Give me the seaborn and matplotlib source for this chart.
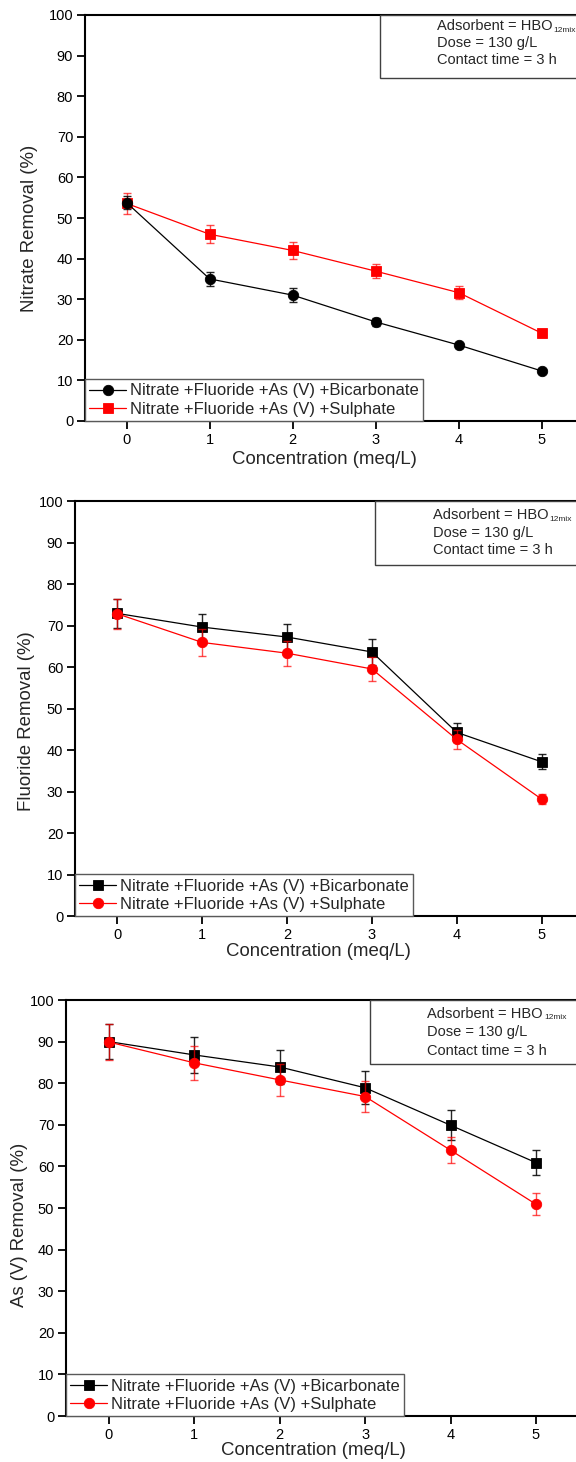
import numpy as np
import pandas as pd
import matplotlib
matplotlib.use("Agg")
import matplotlib.pyplot as plt
import seaborn as sns
from matplotlib.patches import Rectangle

# ---------------- data ----------------
conc = [0, 1, 2, 3, 4, 5]
x_ticks = [0, 1, 2, 3, 4, 5]
y_ticks = [0, 10, 20, 30, 40, 50, 60, 70, 80, 90, 100]

label_bicarb = "Nitrate +Fluoride +As (V) +Bicarbonate"
label_sulph = "Nitrate +Fluoride +As (V) +Sulphate"

nitrate_bicarb = [53.8, 35.0, 31.0, 24.4, 18.7, 12.3]
nitrate_bicarb_err = [1.5, 1.8, 1.7, 1.0, 0.6, 0.5]
nitrate_sulph = [53.6, 46.0, 42.0, 36.9, 31.6, 21.6]
nitrate_sulph_err = [2.6, 2.2, 2.0, 1.8, 1.6, 0.8]

fluoride_bicarb = [73.0, 69.7, 67.3, 63.7, 44.3, 37.2]
fluoride_bicarb_err = [3.5, 3.1, 3.2, 3.2, 2.3, 1.8]
fluoride_sulph = [72.9, 66.0, 63.4, 59.6, 42.6, 28.2]
fluoride_sulph_err = [3.6, 3.2, 3.0, 3.0, 2.2, 1.2]

arsenic_bicarb = [90.0, 86.8, 83.9, 78.9, 69.9, 60.9]
arsenic_bicarb_err = [4.2, 4.4, 4.2, 4.0, 3.6, 3.0]
arsenic_sulph = [89.9, 84.9, 80.8, 76.8, 63.9, 50.9]
arsenic_sulph_err = [4.4, 4.1, 3.9, 3.8, 3.2, 2.6]

y_labels = ["Nitrate Removal (%)", "Fluoride Removal (%)", "As (V) Removal (%)"]
x_label = "Concentration (meq/L)"
annotation_main = "Adsorbent = HBO"
annotation_sub = "12mix"
annotation_lines = ["Dose = 130 g/L", "Contact time = 3 h"]

# ---------------- style ----------------
sns.set_style("ticks")
plt.rcParams["font.family"] = ["Liberation Sans", "DejaVu Sans"]

fig = plt.figure(figsize=(5.76, 14.62), dpi=100)
fig.patch.set_facecolor("white")

W, H = 576.0, 1462.0
def rect(left_px, right_px, top_px, bottom_px):
    return [left_px / W, 1 - bottom_px / H, (right_px - left_px) / W, (bottom_px - top_px) / H]

panels = [
    dict(rect=rect(85, 583.5, 15, 421),
         bic=(nitrate_bicarb, nitrate_bicarb_err, "o", 7.5),
         sul=(nitrate_sulph, nitrate_sulph_err, "s", 6.5),
         bic_on_top=True,
         ylabel=y_labels[0], ylab_xy=(-0.095, 0.475), xlab_xy=(0.48, -0.075),
         box_x=0.592, box_y=0.845, text_x=0.706, text_y=[0.972, 0.930, 0.888]),
    dict(rect=rect(75, 584, 501.5, 916),
         bic=(fluoride_bicarb, fluoride_bicarb_err, "s", 6.5),
         sul=(fluoride_sulph, fluoride_sulph_err, "o", 7.5),
         bic_on_top=False,
         ylabel=y_labels[1], ylab_xy=(-0.078, 0.47), xlab_xy=(0.479, -0.066),
         box_x=0.589, box_y=0.847, text_x=0.703, text_y=[0.967, 0.925, 0.883]),
    dict(rect=rect(66, 578.7, 1000, 1416),
         bic=(arsenic_bicarb, arsenic_bicarb_err, "s", 6.5),
         sul=(arsenic_sulph, arsenic_sulph_err, "o", 7.5),
         bic_on_top=False,
         ylabel=y_labels[2], ylab_xy=(-0.074, 0.46), xlab_xy=(0.482, -0.063),
         box_x=0.592, box_y=0.845, text_x=0.705, text_y=[0.967, 0.922, 0.878]),
]

def draw_series(ax, y, err, marker, ms, color, label, z, ealpha):
    ax.errorbar(conc, y, yerr=err, fmt="none", ecolor=color, alpha=ealpha,
                elinewidth=1.0, capsize=3.2, capthick=1.0, zorder=z - 0.5)
    df = pd.DataFrame({"conc": conc, "val": y})
    n_before = len(ax.lines)
    sns.lineplot(data=df, x="conc", y="val", ax=ax, color=color, marker=marker,
                 markersize=ms, markeredgecolor=color, markeredgewidth=0.6,
                 linewidth=0.9, zorder=z, legend=False)
    line = ax.lines[n_before:][-1]
    line.set_label(label)
    return line

for p in panels:
    ax = fig.add_axes(p["rect"])
    by, be, bm, bms = p["bic"]
    sy, se, sm, sms = p["sul"]
    zb, zs = (4, 3) if p["bic_on_top"] else (3, 4)
    h_b = draw_series(ax, by, be, bm, bms, "black", label_bicarb, zb, 0.85)
    h_s = draw_series(ax, sy, se, sm, sms, "#ff0000", label_sulph, zs, 0.7)

    ax.set_xlim(-0.5, 5.5)
    ax.set_ylim(0, 100)
    ax.set_xticks(x_ticks)
    ax.set_yticks(y_ticks)
    ax.tick_params(axis="both", direction="out", length=5.5, width=1.3,
                   labelsize=10.5, pad=3, color="black", labelcolor="black")
    for s in ["left", "bottom", "top", "right"]:
        ax.spines[s].set_linewidth(1.5)
        ax.spines[s].set_color("black")

    ax.set_xlabel(x_label, fontsize=13.4)
    ax.set_ylabel(p["ylabel"], fontsize=13.4)
    ax.xaxis.set_label_coords(*p["xlab_xy"])
    ax.yaxis.set_label_coords(*p["ylab_xy"])

    leg = ax.legend([h_b, h_s], [label_bicarb, label_sulph], loc="lower left",
                    bbox_to_anchor=(0, 0), borderaxespad=0, frameon=True,
                    fancybox=False, edgecolor="0.35", framealpha=1,
                    fontsize=12, handlelength=2.2, handletextpad=0.25,
                    borderpad=0.25, labelspacing=0.2, numpoints=1)
    leg.get_frame().set_linewidth(1.0)
    leg.set_zorder(10)

    box = Rectangle((p["box_x"], p["box_y"]), 0.6, 1.0 - p["box_y"],
                    transform=ax.transAxes, facecolor="white",
                    edgecolor="0.25", linewidth=1.0, clip_on=False, zorder=5)
    ax.add_patch(box)
    t_main = ax.text(p["text_x"], p["text_y"][0], annotation_main,
                     transform=ax.transAxes, fontsize=10.5, va="center",
                     ha="left", zorder=6)
    ax.annotate(annotation_sub, xy=(1.0, 0.22), xycoords=t_main,
                xytext=(1.0, 0), textcoords="offset points",
                fontsize=6.0, va="center", ha="left", zorder=6)
    for txt, ty in zip(annotation_lines, p["text_y"][1:]):
        ax.text(p["text_x"], ty, txt, transform=ax.transAxes, fontsize=10.5,
                va="center", ha="left", zorder=6)

fig.savefig("out.png", dpi=100, facecolor="white")
